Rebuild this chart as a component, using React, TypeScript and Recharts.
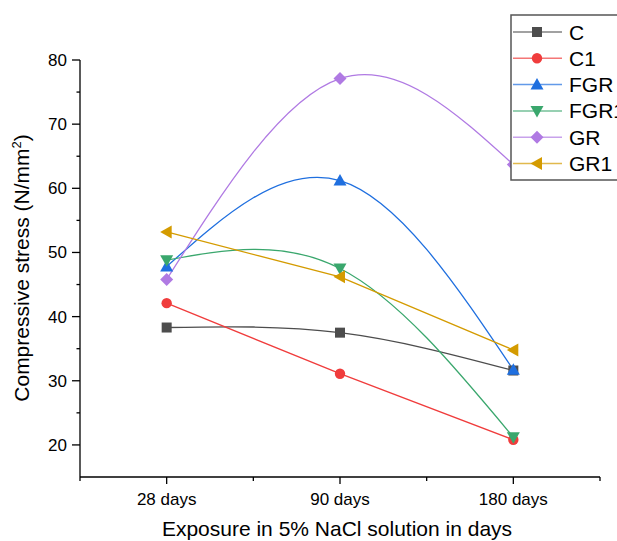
import React from 'react';
import { LineChart, Line, XAxis, YAxis, Label } from 'recharts';

const categories = ['28 days', '90 days', '180 days'];
const seriesNames = ['C', 'C1', 'FGR', 'FGR1', 'GR', 'GR1'];
const C = [38.3, 37.5, 31.6];
const C1 = [42.1, 31.1, 20.8];
const FGR = [47.8, 61.2, 31.7];
const FGR1 = [48.8, 47.5, 21.2];
const GR = [45.8, 77.1, 63.7];
const GR1 = [53.2, 46.2, 34.8];
const yTicks = [20, 25, 30, 35, 40, 45, 50, 55, 60, 65, 70, 75, 80];
const xTicks = [0, 0.5, 1, 1.5, 2, 2.5, 3];
const yTitle = 'Compressive stress (N/mm';
const xTitle = 'Exposure in 5% NaCl solution in days';

const seriesValues: Record<string, number[]> = { C, C1, FGR, FGR1, GR, GR1 };

const data = categories.map((name, i) => {
  const row: Record<string, any> = { x: i + 0.5, name };
  seriesNames.forEach((s) => {
    row[s] = seriesValues[s][i];
  });
  return row;
});

const FONT = '"Liberation Sans", Arial, sans-serif';

const styles: Record<string, { color: string; shape: string; curve: 'natural' | 'linear' }> = {
  C: { color: '#4d4d4d', shape: 'square', curve: 'natural' },
  C1: { color: '#f03c3c', shape: 'circle', curve: 'linear' },
  FGR: { color: '#1f6fdf', shape: 'up', curve: 'natural' },
  FGR1: { color: '#3aa76d', shape: 'down', curve: 'natural' },
  GR: { color: '#b07ae3', shape: 'diamond', curve: 'natural' },
  GR1: { color: '#d49b00', shape: 'left', curve: 'linear' },
};

function markerEl(shape: string, cx: number, cy: number, color: string, key?: string) {
  switch (shape) {
    case 'square':
      return <rect key={key} x={cx - 5} y={cy - 5} width={10} height={10} fill={color} />;
    case 'circle':
      return <circle key={key} cx={cx} cy={cy} r={5.2} fill={color} />;
    case 'up':
      return <polygon key={key} points={`${cx},${cy - 6.5} ${cx + 6.5},${cy + 5} ${cx - 6.5},${cy + 5}`} fill={color} />;
    case 'down':
      return <polygon key={key} points={`${cx},${cy + 6.5} ${cx + 6.5},${cy - 5} ${cx - 6.5},${cy - 5}`} fill={color} />;
    case 'diamond':
      return <polygon key={key} points={`${cx},${cy - 6.5} ${cx + 6.5},${cy} ${cx},${cy + 6.5} ${cx - 6.5},${cy}`} fill={color} />;
    case 'left':
      return <polygon key={key} points={`${cx - 6.5},${cy} ${cx + 5},${cy - 6.5} ${cx + 5},${cy + 6.5}`} fill={color} />;
    default:
      return <circle key={key} cx={cx} cy={cy} r={5} fill={color} />;
  }
}

const makeDot = (name: string) => (props: any) => {
  const { cx, cy, index } = props;
  const st = styles[name];
  return markerEl(st.shape, cx, cy, st.color, `${name}-${index}`);
};

const YTick = (props: any) => {
  const { x, y, payload } = props;
  const v = payload.value;
  const major = v % 10 === 0;
  return (
    <g>
      <line x1={x - (major ? 8 : 3.5)} x2={x} y1={y} y2={y} stroke="#000" strokeWidth={1.3} />
      {major && (
        <text x={x - 13} y={y + 6} textAnchor="end" fontSize={17} fontFamily={FONT} fill="#000">
          {v}
        </text>
      )}
    </g>
  );
};

const XTick = (props: any) => {
  const { x, y, payload } = props;
  const v = payload.value;
  const idx = Math.round(v - 0.5);
  const major = Math.abs(v - Math.floor(v) - 0.5) < 1e-6;
  return (
    <g>
      <line x1={x} x2={x} y1={y} y2={y + (major ? 7 : 4)} stroke="#000" strokeWidth={1.3} />
      {major && (
        <text x={x} y={y + 28} textAnchor="middle" fontSize={17} fontFamily={FONT} fill="#000">
          {categories[idx]}
        </text>
      )}
    </g>
  );
};

const LegendOverlay = () => {
  const top = 15;
  const rowH = 26.3;
  return (
    <svg
      width={617}
      height={541}
      style={{ position: 'absolute', left: 0, top: 0, pointerEvents: 'none' }}
    >
      <rect x={511} y={top} width={140} height={165} fill="#fff" stroke="#555" strokeWidth={1.5} />
      {seriesNames.map((s, i) => {
        const cy = top + 17 + i * rowH;
        const st = styles[s];
        return (
          <g key={s}>
            <line x1={513} x2={562} y1={cy} y2={cy} stroke={st.color} strokeWidth={1.5} strokeOpacity={0.7} />
            {markerEl(st.shape, 537, cy, st.color)}
            <text x={569} y={cy + 7.5} fontSize={21} fontFamily={FONT} fill="#000">
              {s}
            </text>
          </g>
        );
      })}
    </svg>
  );
};

export default function App() {
  return (
    <div
      style={{
        position: 'absolute',
        left: 0,
        top: 0,
        width: 617,
        height: 541,
        overflow: 'hidden',
        background: '#fff',
      }}
    >
      <LineChart width={617} height={541} data={data} margin={{ top: 60, right: 17, bottom: 0, left: 0 }}>
        <XAxis
          type="number"
          dataKey="x"
          domain={[0, 3]}
          ticks={xTicks}
          interval={0}
          height={64}
          tickSize={0}
          tickMargin={0}
          tick={<XTick />}
          axisLine={{ stroke: '#000', strokeWidth: 1.3 }}
          allowDataOverflow
        >
          <Label
            content={() => (
              <text x={337} y={536} textAnchor="middle" fontSize={21} fontFamily={FONT} fill="#000">
                {xTitle}
              </text>
            )}
          />
        </XAxis>
        <YAxis
          type="number"
          domain={[15, 80]}
          ticks={yTicks}
          interval={0}
          width={80}
          tickSize={0}
          tickMargin={0}
          tick={<YTick />}
          axisLine={{ stroke: '#000', strokeWidth: 1.3 }}
          allowDataOverflow
        >
          <Label
            content={() => (
              <text
                x={0}
                y={0}
                transform="translate(29,268) rotate(-90)"
                textAnchor="middle"
                fontSize={21}
                fontFamily={FONT}
                fill="#000"
              >
                {yTitle}
                <tspan dy={-8} fontSize={13}>2</tspan>
                <tspan dy={8}>)</tspan>
              </text>
            )}
          />
        </YAxis>
        {seriesNames.map((s) => (
          <Line
            key={s}
            type={styles[s].curve}
            dataKey={s}
            stroke={styles[s].color}
            strokeWidth={1.3}
            dot={makeDot(s)}
            activeDot={false}
            isAnimationActive={false}
          />
        ))}
      </LineChart>
      <LegendOverlay />
    </div>
  );
}
